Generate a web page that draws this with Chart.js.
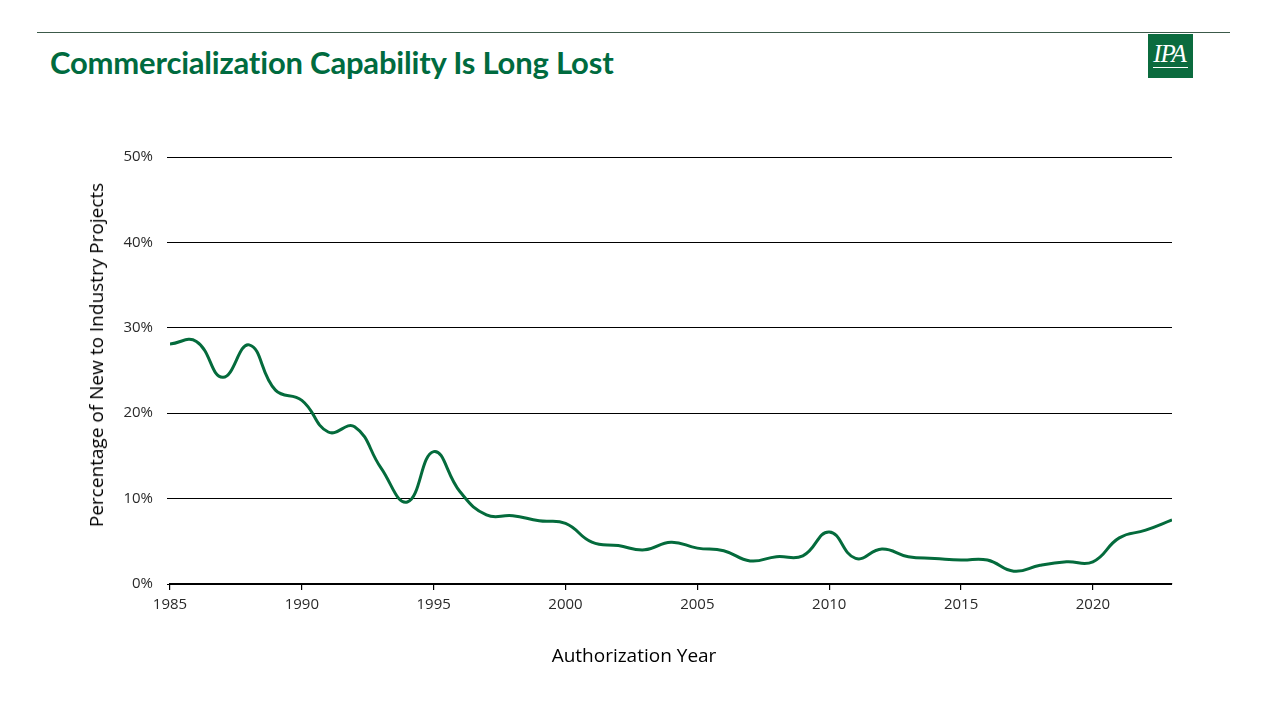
<!DOCTYPE html>
<html>
<head>
<meta charset="utf-8">
<script src="https://cdn.jsdelivr.net/npm/chart.js@4"></script>
<style>
  body { margin: 0; background: #fff; }
  #wrap { position: relative; width: 1280px; height: 720px; }
  #topline { position: absolute; left: 37px; top: 32px; width: 1193px; height: 1px; background: #3c5a4a; }
  #title { position: absolute; left: 50px; top: 43px; font-family: Lato, 'Open Sans', sans-serif; font-weight: bold; font-size: 31px; color: #006b3f; letter-spacing: -0.2px; }
  #logo { position: absolute; left: 1148px; top: 34px; width: 45px; height: 44px; background: #0b6b3e; color: #fff; font-family: 'Liberation Serif', serif; font-style: italic; font-size: 25px; line-height: 40px; text-align: center; letter-spacing: -1px; }
  #logo span { border-bottom: 1px solid #fff; padding-right: 2px; }
  .axtitle { position: absolute; font-family: 'Open Sans', Lato, sans-serif; font-size: 19px; color: #000; white-space: nowrap; }
  #xtitle { left: 634px; top: 642px; transform: translateX(-50%); }
  #ytitle { left: 96px; top: 355px; transform: translate(-50%, -50%) rotate(-90deg); }
  canvas { position: absolute; left: 0; top: 0; }
</style>
</head>
<body>
<div id="wrap">
  <div id="topline"></div>
  <div id="title">Commercialization Capability Is Long Lost</div>
  <div id="logo"><span>IPA</span></div>
  <canvas id="chart" width="1280" height="720"></canvas>
  <div class="axtitle" id="xtitle">Authorization Year</div>
  <div class="axtitle" id="ytitle">Percentage of New to Industry Projects</div>
</div>
<script>
// New-to-industry share by authorization year
const years = [1985, 1986, 1987, 1988, 1989, 1990, 1991, 1992, 1993, 1994,
  1995, 1996, 1997, 1998, 1999, 2000, 2001, 2002, 2003, 2004,
  2005, 2006, 2007, 2008, 2009, 2010, 2011, 2012, 2013, 2014,
  2015, 2016, 2017, 2018, 2019, 2020, 2021, 2022, 2023];
const pctNewToIndustry = [28.1, 28.4, 24.2, 28.0, 22.7, 21.5, 17.8, 18.4, 13.6, 9.6,
  15.5, 10.8, 8.1, 8.0, 7.4, 7.1, 4.9, 4.5, 4.0, 4.9,
  4.2, 3.9, 2.7, 3.2, 3.3, 6.1, 3.0, 4.1, 3.2, 3.0,
  2.8, 2.8, 1.5, 2.2, 2.6, 2.6, 5.4, 6.3, 7.5];
const yTicks = [0, 10, 20, 30, 40, 50];
const xTicks = [1985, 1990, 1995, 2000, 2005, 2010, 2015, 2020];

const tickFont = { family: "'Open Sans', Lato, sans-serif", size: 15 };

const ctx = document.getElementById('chart').getContext('2d');
const myChart = new Chart(ctx, {
  type: 'line',
  data: {
    datasets: [{
      label: 'Percentage of New to Industry Projects',
      data: years.map((y, i) => ({ x: y, y: pctNewToIndustry[i] })),
      borderColor: '#046b3c',
      borderWidth: 3,
      pointRadius: 0,
      tension: 0.45,
      fill: false
    }]
  },
  options: {
    responsive: false,
    animation: false,
    layout: { padding: { top: 157, right: 108, bottom: 90, left: 72 } },
    plugins: {
      legend: { display: false },
      tooltip: { enabled: false }
    },
    scales: {
      x: {
        type: 'linear',
        min: 1985,
        max: 2023,
        afterBuildTicks: (axis) => { axis.ticks = xTicks.map(v => ({ value: v })); },
        afterFit: (axis) => { axis.height = 720 - 584 - 90; },
        border: { display: true, color: '#000', width: 1.2 },
        grid: { drawOnChartArea: false, drawTicks: true, tickLength: 6, color: '#000', lineWidth: 1.2 },
        ticks: { font: tickFont, color: '#2a2a2a', padding: 6, maxRotation: 0, callback: v => String(v) },
        title: { display: false }
      },
      y: {
        min: 0,
        max: 50,
        afterBuildTicks: (axis) => { axis.ticks = yTicks.map(v => ({ value: v })); },
        afterFit: (axis) => { axis.width = 170 - 72; },
        border: { display: false },
        grid: { color: '#000', lineWidth: 1, tickLength: 3 },
        ticks: { font: tickFont, color: '#2a2a2a', padding: 14, callback: v => v + '%' },
        title: { display: false }
      }
    }
  }
});
</script>
</body>
</html>
